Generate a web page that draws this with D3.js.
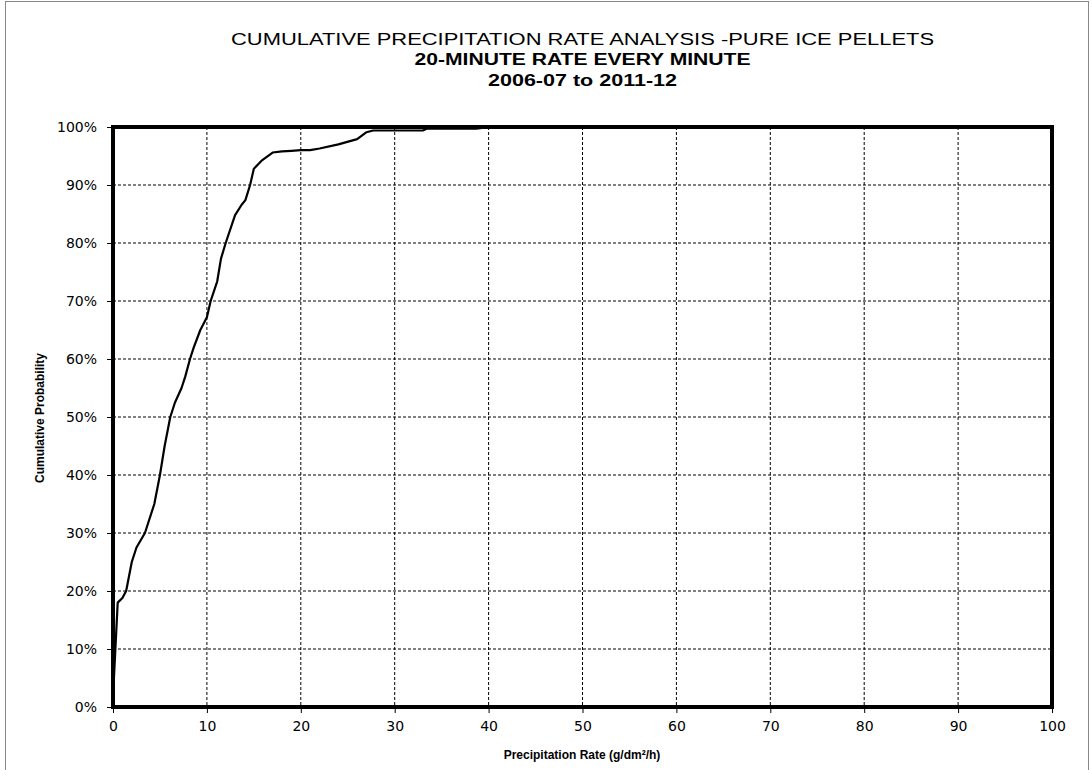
<!DOCTYPE html>
<html>
<head>
<meta charset="utf-8">
<script src="https://cdn.jsdelivr.net/npm/d3@7"></script>
<style>
  body { margin: 0; background: #fff; }
  text { fill: #000; }
</style>
</head>
<body>
<svg id="chart" width="1092" height="770"></svg>
<script>
// rate (g/dm2/h) vs cumulative probability (%)
var rates = [0, 0.1, 0.5, 1.0, 1.4, 2.0, 2.5, 3.4, 4.4, 5.0, 5.5, 6.1, 6.6, 7.3, 7.7, 8.2,
  8.6, 9.3, 10.0, 10.4, 11.1, 11.5, 12.0, 13.0, 13.7, 14.1, 14.6, 15.0, 15.9, 17.0,
  18.0, 19.0, 20.0, 21.0, 22.0, 24.0, 26.0, 27.0, 27.7, 33.0, 33.4, 38.7, 39.5, 43.0];
var cumProb = [0, 5, 18, 18.8, 20, 25, 27.5, 30, 35, 40, 45, 50, 52.5, 55, 57, 60,
  62, 65, 67.2, 70, 73.4, 77.3, 80, 84.8, 86.6, 87.4, 90, 92.8, 94.3, 95.6,
  95.8, 95.9, 96.0, 96.0, 96.3, 97.0, 97.9, 99.1, 99.4, 99.4, 99.7, 99.7, 99.9, 100];
var xTicks = [0, 10, 20, 30, 40, 50, 60, 70, 80, 90, 100];
var yTicks = [0, 10, 20, 30, 40, 50, 60, 70, 80, 90, 100];
var titleLines = ["CUMULATIVE PRECIPITATION  RATE ANALYSIS -PURE ICE PELLETS",
  "20-MINUTE RATE EVERY MINUTE", "2006-07 to 2011-12"];

var margin = {left: 113, right: 40, top: 127, bottom: 63};
var width = 1052 - margin.left, height = 707 - margin.top;

var svg = d3.select("#chart");

// outer frame
svg.append("rect")
  .attr("x", 5.5).attr("y", 1.5)
  .attr("width", 1083).attr("height", 800)
  .attr("fill", "none").attr("stroke", "#888").attr("stroke-width", 1);

var x = d3.scaleLinear().domain([0, 100]).range([0, width]);
var y = d3.scaleLinear().domain([0, 100]).range([height, 0]);

var g = svg.append("g").attr("transform", "translate(" + margin.left + "," + margin.top + ")");

// grid
g.selectAll(".vgrid").data(xTicks.slice(1, -1)).enter().append("line")
  .attr("x1", d => x(d)).attr("x2", d => x(d))
  .attr("y1", 0).attr("y2", height)
  .attr("stroke", "#000").attr("stroke-width", 1).attr("stroke-dasharray", "3,2");
g.selectAll(".hgrid").data(yTicks.slice(1, -1)).enter().append("line")
  .attr("x1", 0).attr("x2", width)
  .attr("y1", d => y(d)).attr("y2", d => y(d))
  .attr("stroke", "#000").attr("stroke-width", 1).attr("stroke-dasharray", "3,2");

// axes
var xAxis = g.append("g").attr("transform", "translate(0," + height + ")")
  .call(d3.axisBottom(x).tickValues(xTicks).tickSize(6).tickPadding(8));
var yAxis = g.append("g")
  .call(d3.axisLeft(y).tickValues(yTicks).tickSize(6).tickPadding(10).tickFormat(d => d + "%"));
[xAxis, yAxis].forEach(function(a) {
  a.select(".domain").remove();
  a.selectAll("line").attr("stroke", "#000");
  a.selectAll("text").attr("font-family", "'DejaVu Sans', sans-serif")
    .attr("font-size", 14).attr("fill", "#000");
});

// curve
var line = d3.line()
  .x((d, i) => x(rates[i]))
  .y(d => y(d));
g.append("path")
  .datum(cumProb)
  .attr("d", line)
  .attr("fill", "none")
  .attr("stroke", "#000")
  .attr("stroke-width", 2.2)
  .attr("stroke-linejoin", "round");

// plot border
g.append("rect")
  .attr("x", 0).attr("y", 0).attr("width", width).attr("height", height)
  .attr("fill", "none").attr("stroke", "#000").attr("stroke-width", 4);

// titles
var titleY = [45, 65, 86];
var titleW = [703, 336, 189];
titleLines.forEach(function(t, i) {
  svg.append("text")
    .attr("x", 582.5).attr("y", titleY[i])
    .attr("text-anchor", "middle")
    .attr("font-family", "'Liberation Sans Narrow', 'Liberation Sans', Arial, sans-serif")
    .attr("font-size", 16)
    .attr("font-weight", i === 0 ? "normal" : "bold")
    .attr("textLength", titleW[i])
    .attr("lengthAdjust", "spacingAndGlyphs")
    .text(t);
});

// axis labels
svg.append("text")
  .attr("x", 582).attr("y", 759)
  .attr("text-anchor", "middle")
  .attr("font-family", "'Liberation Sans', Arial, sans-serif")
  .attr("font-size", 12).attr("font-weight", "bold")
  .text("Precipitation Rate (g/dm²/h)");
svg.append("text")
  .attr("transform", "translate(44,418) rotate(-90)")
  .attr("text-anchor", "middle")
  .attr("font-family", "'Liberation Sans', Arial, sans-serif")
  .attr("font-size", 12).attr("font-weight", "bold")
  .text("Cumulative Probability");
</script>
</body>
</html>
